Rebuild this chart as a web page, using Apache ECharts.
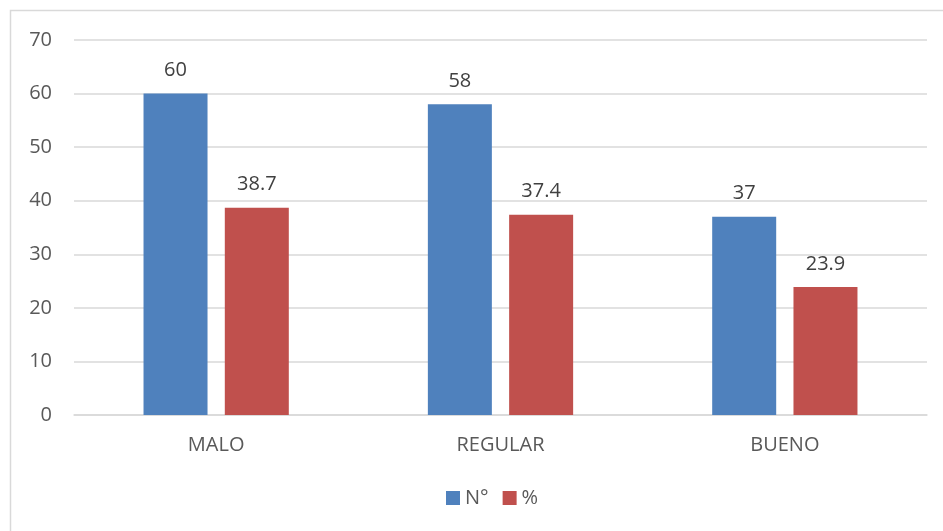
<!DOCTYPE html>
<html><head><meta charset="utf-8">
<script src="https://cdn.jsdelivr.net/npm/echarts@6/dist/echarts.min.js"></script>
<style>html,body{margin:0;padding:0;background:#fff}#c{width:943px;height:531px}</style>
</head><body><div id="c"></div>
<script>
const categories = ['MALO', 'REGULAR', 'BUENO'];
const seriesNames = ['N°', '%'];
const countValues = [60, 58, 37];
const pctValues = [38.7, 37.4, 23.9];

const chart = echarts.init(document.getElementById('c'), null, {renderer: 'canvas'});
const font = '"Open Sans", "Liberation Sans", sans-serif';
const lbl = {show: true, position: 'top', distance: 13, color: '#404040', fontSize: 20, fontFamily: font};
chart.setOption({
  animation: false,
  graphic: [{type: 'rect', shape: {x: 10.5, y: 10.5, width: 940, height: 530}, style: {fill: 'none', stroke: '#d9d9d9', lineWidth: 1.5}, silent: true}],
  grid: {left: 74, right: 16, top: 40, bottom: 116},
  legend: {bottom: 18, left: 441, itemWidth: 14, itemHeight: 14, itemGap: 14,
    textStyle: {color: '#595959', fontSize: 20, fontFamily: font},
    data: seriesNames.map(n => ({name: n, icon: 'rect'}))},
  xAxis: {type: 'category', data: categories,
    axisLine: {lineStyle: {color: '#d9d9d9', width: 1.5}}, axisTick: {show: false},
    axisLabel: {color: '#595959', fontSize: 20, fontFamily: font, margin: 20}},
  yAxis: {type: 'value', min: 0, max: 70, interval: 10,
    axisLine: {show: false}, axisTick: {show: false},
    splitLine: {lineStyle: {color: '#d9d9d9', width: 1.5}},
    axisLabel: {color: '#595959', fontSize: 20, fontFamily: font, margin: 22}},
  series: [
    {name: seriesNames[0], type: 'bar', data: countValues, barWidth: 64, barGap: '27%',
     itemStyle: {color: '#4f81bd'}, label: lbl},
    {name: seriesNames[1], type: 'bar', data: pctValues, barWidth: 64,
     itemStyle: {color: '#c0504d'}, label: lbl}
  ]
});
</script></body></html>
